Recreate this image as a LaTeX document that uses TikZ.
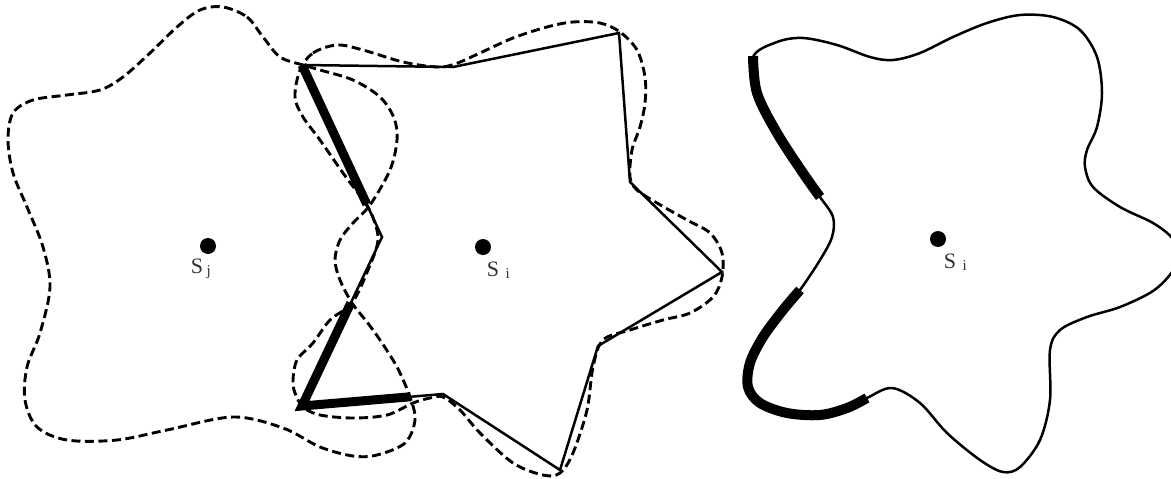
\documentclass[tikz,border=0pt]{standalone}
\usepackage{fontspec}
\setmainfont{Liberation Serif}
\usetikzlibrary{calc}
\begin{document}
\begin{tikzpicture}[x=1pt,y=-1pt,
  dashcurve/.style={line width=2.9pt, dash pattern=on 9pt off 4.5pt},
  poly/.style={line width=2.5pt, line join=miter},
  thickseg/.style={line width=9pt, line cap=butt, line join=miter},
  thincurve/.style={line width=2.5pt},
  thickarc/.style={line width=10pt, line cap=butt},
  dot/.style={circle, fill=black, inner sep=0pt, minimum size=16pt},
  lbl/.style={font=\fontsize{22}{26}\selectfont, inner sep=0pt, text=black!80},
  sublbl/.style={font=\fontsize{15}{18}\selectfont, inner sep=0pt, text=black!80}]
\useasboundingbox (0,0) rectangle (1171,479);
\clip (0,0) rectangle (1171,479);

% ---- dashed curve around S_j
\draw[dashcurve] plot[smooth cycle, tension=0.55] coordinates {
 (223,7) (247,17) (263,37) (280,57) (303,65) (320,70) (353,80) (380,97)
 (394,118) (397,140) (390,170) (370,205) (353,223) (340,240) (335,260)
 (340,280) (352,303) (367,322) (380,340) (397,367) (410,397) (415,420)
 (405,443) (377,455) (353,456) (320,447) (283,428) (233,417) (167,430)
 (117,440) (67,440) (37,427) (25,400) (27,367) (40,333) (50,287) (43,247)
 (27,207) (13,173) (8,140) (13,113) (33,100) (67,95) (100,90) (123,77)
 (150,53) (177,27) (200,10)};

% ---- dashed curve around S_i (middle)
\draw[dashcurve] plot[smooth cycle, tension=0.55] coordinates {
 (300,70) (313,53) (337,45) (363,50) (403,62) (437,67) (455,64) (480,53)
 (513,38) (547,27) (573,22) (600,23) (620,32) (637,50) (645,77) (645,103)
 (640,127) (632,150) (630,177) (637,190) (657,203) (687,220) (710,233)
 (722,253) (722,277) (713,297) (690,313) (663,320) (630,330) (603,340)
 (593,367) (587,410) (573,453) (560,473) (543,475) (513,463) (480,433)
 (460,410) (443,397) (430,398) (413,403) (387,415) (353,418) (320,415)
 (303,407) (295,393) (293,380) (297,360) (313,343) (330,320) (352,303)
 (368,270) (378,240) (372,215) (363,200) (343,173) (320,140) (303,117)
 (295,97)};

% ---- polygon around S_i
\coordinate (p1) at (302,65);
\coordinate (p2) at (453,67);
\coordinate (p3) at (619,33);
\coordinate (p4) at (630,182);
\coordinate (p5) at (722,272);
\coordinate (p6) at (598,346);
\coordinate (p7) at (560,470);
\coordinate (p8) at (443,394);
\coordinate (p9) at (302,406);
\coordinate (p10) at (382,237);
\draw[poly] (p1) -- (p2) -- (p3) -- (p4) -- (p5) -- (p6) -- (p7) -- (p8) -- (p9) -- (p10) -- cycle;

% thick parts of the polygon
\coordinate (t1) at ($(p1)!0.81!(p10)$);
\coordinate (t2) at ($(p9)!0.61!(p10)$);
\coordinate (t3) at ($(p9)!0.77!(p8)$);
\draw[thickseg] (p1) -- (t1);
\draw[thickseg] (t2) -- (p9) -- (t3);

% ---- right panel: solid curve
\draw[thincurve] plot[smooth cycle, tension=0.55] coordinates {
 (753,57) (777,42) (803,38) (837,45) (870,57) (893,60) (920,53) (953,37)
 (987,23) (1020,15) (1053,17) (1080,30) (1097,57) (1102,93) (1097,127)
 (1087,150) (1085,167) (1093,187) (1120,207) (1153,223) (1172,238)
 (1178,255) (1172,272) (1153,291) (1120,307) (1087,317) (1060,330)
 (1050,350) (1050,400) (1040,440) (1020,467) (1003,472) (980,460)
 (947,433) (920,403) (892,388) (867,398) (847,408) (820,415) (787,413)
 (760,403) (748,387) (750,363) (763,337) (783,310) (800,290) (820,260)
 (832,237) (833,217) (820,197) (803,173) (777,133) (757,93)};
\draw[thickarc] plot[smooth, tension=0.55] coordinates {
 (753,56) (757,93) (777,133) (803,173) (820,197)};
\draw[thickarc] plot[smooth, tension=0.55] coordinates {
 (800,290) (783,310) (763,337) (750,363) (748,387) (760,403) (787,413)
 (820,415) (847,408) (867,398)};

% ---- centres and labels
\node[dot] (sj) at (208,246) {};
\node[dot] (si) at (483,247) {};
\node[dot] (si2) at (938,239) {};
\node[lbl] (sjS) at ($(sj)+(-11,20)$) {S};
\node[sublbl, anchor=north west] (sjsub) at ($(sjS.east)+(3,-1)$) {j};
\node[lbl] (siS) at ($(si)+(10,22)$) {S};
\node[sublbl, anchor=north west] (sisub) at ($(siS.east)+(6,-1)$) {i};
\node[lbl] (si2S) at ($(si2)+(12,22)$) {S};
\node[sublbl, anchor=north west] (si2sub) at ($(si2S.east)+(6,-1)$) {i};
\end{tikzpicture}
\end{document}
